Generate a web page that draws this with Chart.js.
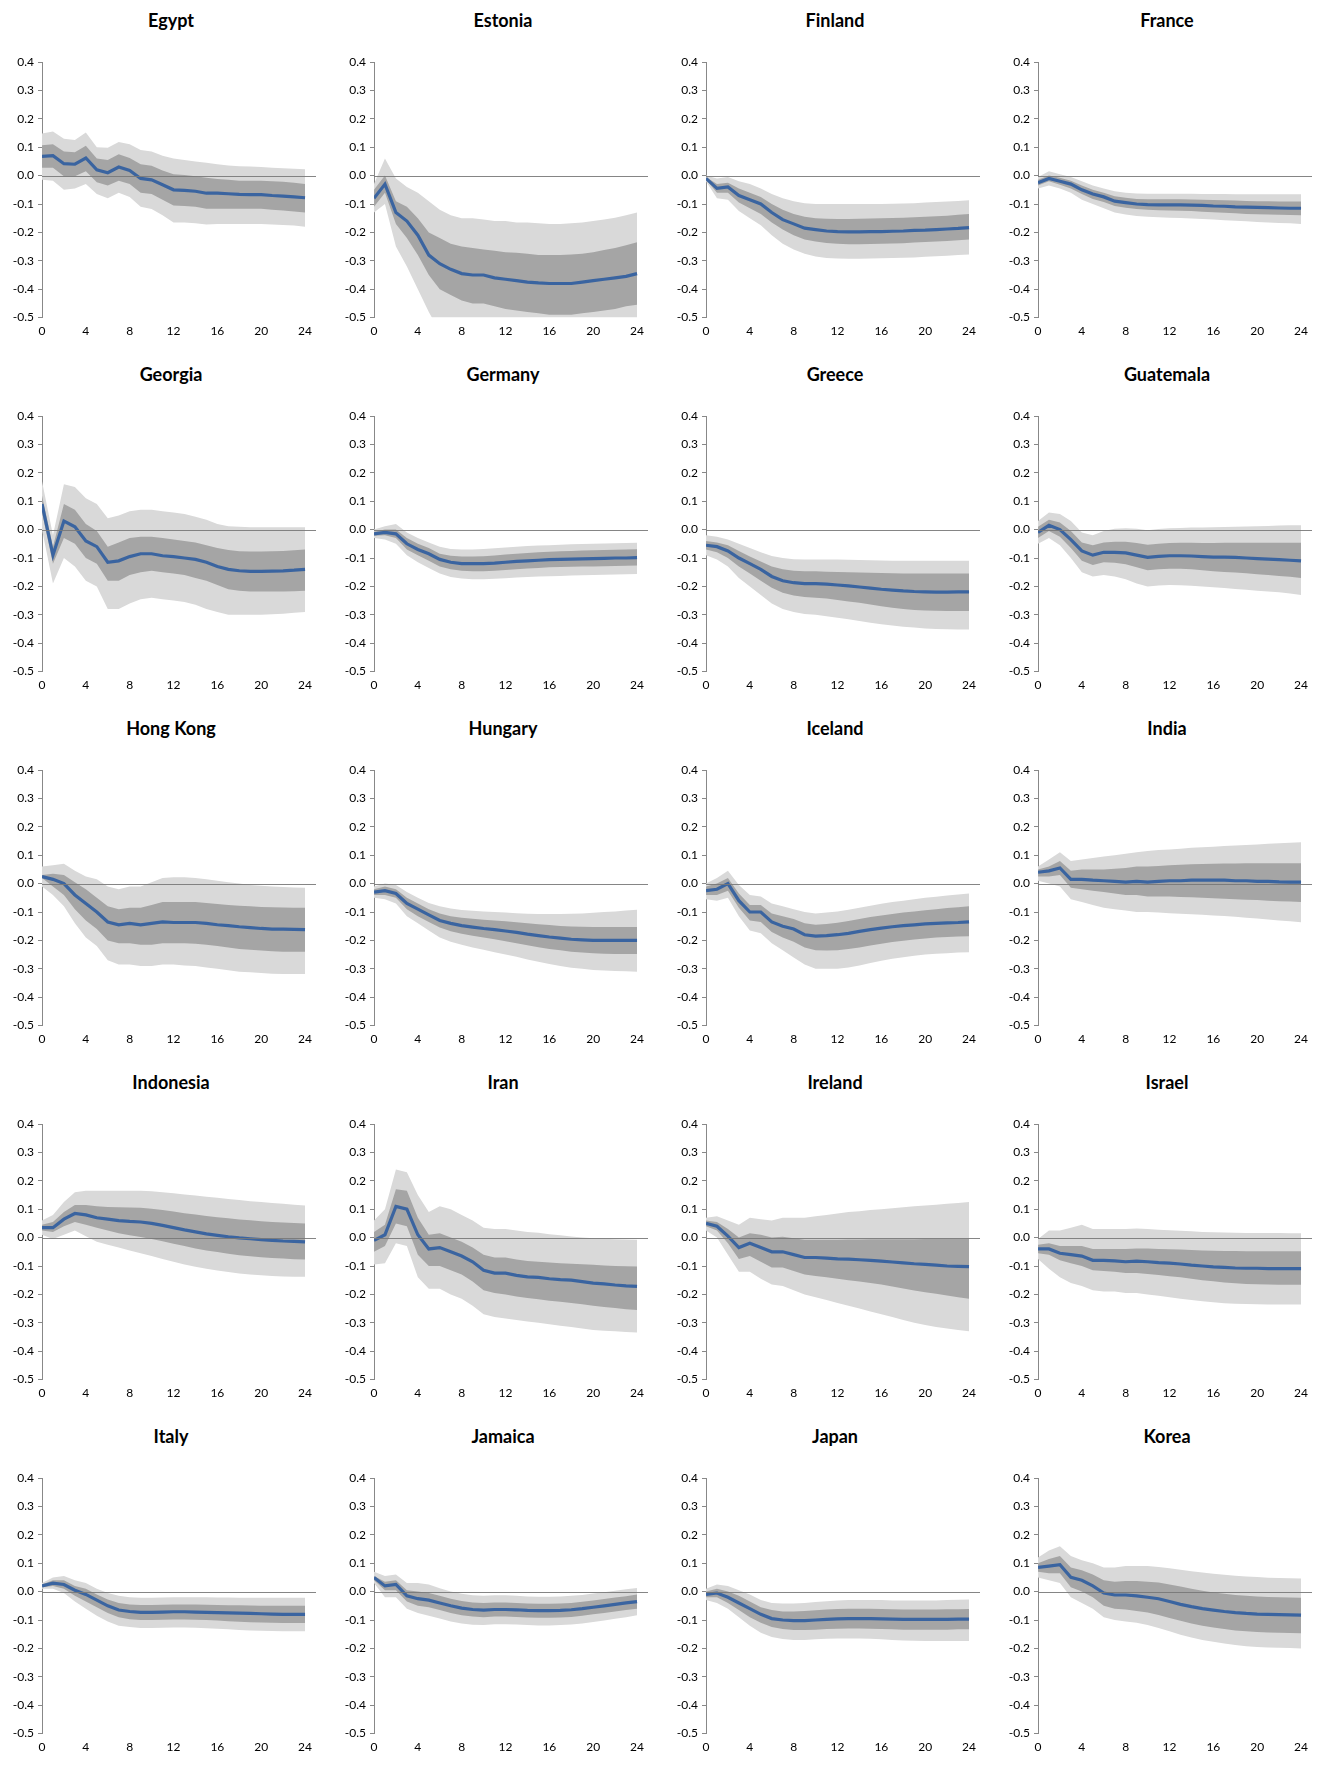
<!DOCTYPE html>
<html><head><meta charset="utf-8">
<script src="https://cdn.jsdelivr.net/npm/chart.js@4.4.0/dist/chart.umd.min.js"></script>
<style>
body{margin:0;background:#fff;}
#grid{display:grid;grid-template-columns:repeat(4,332px);grid-auto-rows:354px;width:1328px;}
.p{position:relative;width:332px;height:354px;}
.t{position:absolute;top:9px;left:0;width:100%;text-align:center;font:bold 18px Lato,"Liberation Sans",sans-serif;color:#000;padding-left:10px;box-sizing:border-box;}
.p canvas{position:absolute;top:44px;left:0;}
</style></head><body><div id="grid"></div>
<script>
const countries=["Egypt","Estonia","Finland","France","Georgia","Germany","Greece","Guatemala","Hong Kong","Hungary","Iceland","India","Indonesia","Iran","Ireland","Israel","Italy","Jamaica","Japan","Korea"];
const horizons=[0,1,2,3,4,5,6,7,8,9,10,11,12,13,14,15,16,17,18,19,20,21,22,23,24];
const xTicks=[0,4,8,12,16,20,24];
const yTicks=[-0.5,-0.4,-0.3,-0.2,-0.1,0,0.1,0.2,0.3,0.4];
// per country: median, inner upper, inner lower, outer upper, outer lower
const median={}, innerHi={}, innerLo={}, outerHi={}, outerLo={};
median["Egypt"]=[0.068,0.07,0.042,0.04,0.062,0.02,0.01,0.03,0.018,-0.01,-0.015,-0.032,-0.05,-0.052,-0.055,-0.062,-0.062,-0.064,-0.066,-0.067,-0.067,-0.07,-0.072,-0.075,-0.078];
innerHi["Egypt"]=[0.107,0.11,0.085,0.082,0.105,0.06,0.055,0.075,0.062,0.04,0.035,0.018,0.005,0.002,-0.002,-0.008,-0.012,-0.015,-0.018,-0.018,-0.018,-0.02,-0.022,-0.025,-0.03];
innerLo["Egypt"]=[0.028,0.028,-0.002,-0.002,0.015,-0.023,-0.035,-0.018,-0.03,-0.06,-0.065,-0.085,-0.105,-0.107,-0.11,-0.117,-0.117,-0.117,-0.117,-0.117,-0.117,-0.12,-0.123,-0.126,-0.13];
outerHi["Egypt"]=[0.148,0.155,0.13,0.125,0.152,0.1,0.098,0.118,0.11,0.09,0.085,0.07,0.06,0.055,0.05,0.045,0.04,0.036,0.033,0.032,0.03,0.028,0.026,0.024,0.022];
outerLo["Egypt"]=[-0.015,-0.018,-0.05,-0.045,-0.03,-0.065,-0.08,-0.06,-0.075,-0.11,-0.118,-0.14,-0.165,-0.165,-0.168,-0.172,-0.17,-0.17,-0.17,-0.17,-0.17,-0.172,-0.174,-0.176,-0.18];
median["Estonia"]=[-0.08,-0.03,-0.13,-0.16,-0.21,-0.28,-0.31,-0.33,-0.345,-0.35,-0.35,-0.36,-0.365,-0.37,-0.375,-0.378,-0.38,-0.38,-0.38,-0.375,-0.37,-0.365,-0.36,-0.355,-0.345];
innerHi["Estonia"]=[-0.05,0.0,-0.09,-0.11,-0.15,-0.2,-0.22,-0.24,-0.25,-0.255,-0.26,-0.265,-0.27,-0.272,-0.275,-0.28,-0.28,-0.28,-0.278,-0.275,-0.27,-0.262,-0.255,-0.245,-0.235];
innerLo["Estonia"]=[-0.11,-0.06,-0.17,-0.22,-0.28,-0.35,-0.4,-0.42,-0.44,-0.45,-0.45,-0.46,-0.47,-0.475,-0.48,-0.485,-0.49,-0.49,-0.49,-0.485,-0.48,-0.475,-0.47,-0.46,-0.455];
outerHi["Estonia"]=[-0.03,0.06,-0.01,-0.04,-0.06,-0.09,-0.12,-0.14,-0.15,-0.15,-0.155,-0.16,-0.16,-0.165,-0.165,-0.168,-0.17,-0.17,-0.168,-0.165,-0.16,-0.155,-0.148,-0.14,-0.13];
outerLo["Estonia"]=[-0.13,-0.1,-0.25,-0.32,-0.4,-0.48,-0.55,-0.58,-0.6,-0.6,-0.6,-0.6,-0.6,-0.6,-0.6,-0.6,-0.6,-0.6,-0.6,-0.6,-0.6,-0.6,-0.6,-0.6,-0.6];
median["Finland"]=[-0.01,-0.045,-0.04,-0.07,-0.085,-0.1,-0.13,-0.155,-0.17,-0.185,-0.19,-0.195,-0.197,-0.198,-0.198,-0.197,-0.197,-0.196,-0.195,-0.193,-0.192,-0.19,-0.188,-0.186,-0.183];
innerHi["Finland"]=[-0.005,-0.03,-0.025,-0.045,-0.06,-0.075,-0.1,-0.12,-0.135,-0.145,-0.15,-0.152,-0.153,-0.153,-0.152,-0.151,-0.15,-0.149,-0.148,-0.147,-0.145,-0.143,-0.141,-0.138,-0.135];
innerLo["Finland"]=[-0.015,-0.06,-0.06,-0.095,-0.115,-0.135,-0.165,-0.19,-0.21,-0.225,-0.232,-0.237,-0.24,-0.242,-0.242,-0.241,-0.24,-0.239,-0.238,-0.236,-0.234,-0.232,-0.23,-0.228,-0.225];
outerHi["Finland"]=[0.0,-0.01,-0.005,-0.02,-0.03,-0.045,-0.065,-0.08,-0.09,-0.097,-0.1,-0.1,-0.1,-0.1,-0.1,-0.1,-0.1,-0.099,-0.098,-0.097,-0.095,-0.093,-0.091,-0.089,-0.087];
outerLo["Finland"]=[-0.02,-0.08,-0.085,-0.125,-0.15,-0.175,-0.21,-0.24,-0.26,-0.275,-0.285,-0.29,-0.292,-0.293,-0.293,-0.292,-0.291,-0.29,-0.289,-0.288,-0.286,-0.284,-0.282,-0.28,-0.278];
median["France"]=[-0.025,-0.01,-0.02,-0.03,-0.05,-0.065,-0.075,-0.09,-0.095,-0.1,-0.102,-0.103,-0.103,-0.103,-0.104,-0.105,-0.107,-0.108,-0.11,-0.111,-0.112,-0.113,-0.114,-0.115,-0.115];
innerHi["France"]=[-0.015,0.0,-0.008,-0.018,-0.035,-0.05,-0.06,-0.073,-0.078,-0.082,-0.083,-0.083,-0.083,-0.083,-0.084,-0.085,-0.086,-0.087,-0.088,-0.089,-0.09,-0.09,-0.091,-0.091,-0.091];
innerLo["France"]=[-0.035,-0.02,-0.032,-0.045,-0.065,-0.082,-0.093,-0.107,-0.113,-0.118,-0.12,-0.122,-0.123,-0.124,-0.125,-0.127,-0.129,-0.131,-0.133,-0.135,-0.136,-0.137,-0.138,-0.139,-0.14];
outerHi["France"]=[-0.005,0.015,0.005,-0.005,-0.02,-0.035,-0.045,-0.055,-0.06,-0.063,-0.064,-0.064,-0.064,-0.064,-0.064,-0.065,-0.065,-0.065,-0.066,-0.066,-0.066,-0.066,-0.066,-0.066,-0.066];
outerLo["France"]=[-0.045,-0.035,-0.045,-0.06,-0.085,-0.1,-0.115,-0.13,-0.137,-0.142,-0.145,-0.147,-0.148,-0.149,-0.151,-0.153,-0.155,-0.157,-0.159,-0.161,-0.163,-0.165,-0.167,-0.168,-0.17];
median["Georgia"]=[0.09,-0.09,0.03,0.01,-0.04,-0.06,-0.115,-0.11,-0.095,-0.085,-0.085,-0.092,-0.095,-0.1,-0.105,-0.115,-0.13,-0.14,-0.145,-0.147,-0.147,-0.146,-0.145,-0.143,-0.14];
innerHi["Georgia"]=[0.12,-0.06,0.09,0.07,0.02,-0.005,-0.06,-0.045,-0.03,-0.025,-0.025,-0.03,-0.035,-0.04,-0.045,-0.055,-0.065,-0.072,-0.076,-0.077,-0.077,-0.076,-0.075,-0.073,-0.07];
innerLo["Georgia"]=[0.06,-0.12,-0.03,-0.05,-0.1,-0.12,-0.18,-0.18,-0.16,-0.15,-0.145,-0.15,-0.155,-0.16,-0.17,-0.18,-0.195,-0.21,-0.215,-0.218,-0.218,-0.218,-0.218,-0.217,-0.215];
outerHi["Georgia"]=[0.17,-0.02,0.16,0.15,0.11,0.09,0.04,0.05,0.065,0.07,0.07,0.065,0.06,0.055,0.045,0.035,0.02,0.012,0.01,0.008,0.008,0.008,0.008,0.008,0.008];
outerLo["Georgia"]=[0.0,-0.19,-0.1,-0.13,-0.18,-0.2,-0.28,-0.28,-0.26,-0.245,-0.24,-0.245,-0.25,-0.255,-0.265,-0.28,-0.29,-0.3,-0.3,-0.3,-0.3,-0.298,-0.296,-0.293,-0.29];
median["Germany"]=[-0.015,-0.01,-0.015,-0.05,-0.07,-0.085,-0.105,-0.115,-0.12,-0.12,-0.12,-0.118,-0.115,-0.112,-0.11,-0.108,-0.106,-0.105,-0.104,-0.103,-0.102,-0.101,-0.1,-0.1,-0.099];
innerHi["Germany"]=[-0.008,0.0,0.0,-0.03,-0.05,-0.065,-0.085,-0.092,-0.095,-0.095,-0.094,-0.091,-0.088,-0.085,-0.082,-0.08,-0.078,-0.076,-0.075,-0.074,-0.073,-0.072,-0.071,-0.07,-0.069];
innerLo["Germany"]=[-0.022,-0.02,-0.03,-0.07,-0.09,-0.11,-0.13,-0.14,-0.145,-0.147,-0.147,-0.145,-0.142,-0.14,-0.137,-0.135,-0.133,-0.132,-0.131,-0.13,-0.13,-0.129,-0.128,-0.127,-0.126];
outerHi["Germany"]=[0.0,0.012,0.02,-0.01,-0.03,-0.045,-0.06,-0.068,-0.07,-0.07,-0.068,-0.066,-0.063,-0.06,-0.058,-0.056,-0.055,-0.053,-0.052,-0.051,-0.05,-0.049,-0.048,-0.047,-0.046];
outerLo["Germany"]=[-0.03,-0.035,-0.05,-0.09,-0.115,-0.135,-0.155,-0.167,-0.172,-0.175,-0.175,-0.173,-0.171,-0.169,-0.167,-0.165,-0.164,-0.163,-0.162,-0.161,-0.16,-0.159,-0.158,-0.157,-0.156];
median["Greece"]=[-0.055,-0.06,-0.075,-0.1,-0.12,-0.14,-0.165,-0.18,-0.187,-0.19,-0.19,-0.192,-0.195,-0.198,-0.202,-0.206,-0.21,-0.213,-0.216,-0.218,-0.219,-0.22,-0.22,-0.219,-0.219];
innerHi["Greece"]=[-0.04,-0.045,-0.055,-0.075,-0.095,-0.112,-0.13,-0.14,-0.145,-0.147,-0.147,-0.148,-0.149,-0.15,-0.151,-0.152,-0.153,-0.154,-0.155,-0.155,-0.155,-0.155,-0.155,-0.155,-0.155];
innerLo["Greece"]=[-0.07,-0.08,-0.1,-0.13,-0.155,-0.18,-0.205,-0.222,-0.232,-0.237,-0.24,-0.243,-0.248,-0.253,-0.258,-0.264,-0.27,-0.275,-0.28,-0.283,-0.285,-0.286,-0.287,-0.287,-0.287];
outerHi["Greece"]=[-0.02,-0.025,-0.035,-0.05,-0.065,-0.08,-0.093,-0.1,-0.104,-0.105,-0.105,-0.105,-0.105,-0.106,-0.107,-0.108,-0.109,-0.11,-0.11,-0.11,-0.11,-0.11,-0.11,-0.11,-0.11];
outerLo["Greece"]=[-0.09,-0.105,-0.13,-0.17,-0.2,-0.23,-0.26,-0.28,-0.29,-0.297,-0.3,-0.305,-0.31,-0.316,-0.322,-0.328,-0.333,-0.338,-0.342,-0.345,-0.348,-0.35,-0.351,-0.352,-0.352];
median["Guatemala"]=[-0.01,0.015,0.0,-0.035,-0.075,-0.09,-0.08,-0.08,-0.082,-0.09,-0.098,-0.094,-0.092,-0.092,-0.093,-0.095,-0.097,-0.097,-0.098,-0.1,-0.102,-0.104,-0.106,-0.108,-0.11];
innerHi["Guatemala"]=[0.01,0.035,0.025,-0.005,-0.045,-0.055,-0.045,-0.043,-0.043,-0.047,-0.053,-0.05,-0.047,-0.046,-0.046,-0.047,-0.047,-0.046,-0.046,-0.046,-0.046,-0.046,-0.046,-0.046,-0.046];
innerLo["Guatemala"]=[-0.03,-0.005,-0.025,-0.065,-0.11,-0.125,-0.115,-0.117,-0.122,-0.133,-0.143,-0.14,-0.138,-0.138,-0.14,-0.143,-0.147,-0.149,-0.151,-0.154,-0.157,-0.16,-0.163,-0.166,-0.17];
outerHi["Guatemala"]=[0.03,0.06,0.055,0.03,-0.01,-0.02,-0.005,0.003,0.005,0.003,-0.002,0.002,0.005,0.006,0.007,0.007,0.008,0.009,0.01,0.011,0.012,0.013,0.014,0.015,0.015];
outerLo["Guatemala"]=[-0.05,-0.03,-0.055,-0.1,-0.15,-0.165,-0.16,-0.165,-0.175,-0.19,-0.2,-0.197,-0.195,-0.196,-0.198,-0.2,-0.203,-0.206,-0.209,-0.212,-0.215,-0.218,-0.221,-0.225,-0.23];
median["Hong Kong"]=[0.025,0.015,0.0,-0.04,-0.07,-0.1,-0.135,-0.145,-0.14,-0.145,-0.14,-0.135,-0.137,-0.137,-0.137,-0.14,-0.145,-0.148,-0.152,-0.155,-0.158,-0.16,-0.16,-0.161,-0.162];
innerHi["Hong Kong"]=[0.03,0.035,0.03,0.005,-0.02,-0.05,-0.08,-0.09,-0.085,-0.085,-0.075,-0.065,-0.065,-0.065,-0.065,-0.068,-0.072,-0.075,-0.078,-0.08,-0.082,-0.083,-0.084,-0.085,-0.085];
innerLo["Hong Kong"]=[0.02,-0.01,-0.04,-0.09,-0.13,-0.16,-0.2,-0.21,-0.21,-0.215,-0.215,-0.21,-0.21,-0.21,-0.212,-0.215,-0.22,-0.225,-0.23,-0.233,-0.236,-0.238,-0.24,-0.24,-0.24];
outerHi["Hong Kong"]=[0.06,0.065,0.07,0.045,0.025,0.015,-0.01,-0.02,-0.01,-0.01,0.005,0.02,0.022,0.022,0.02,0.015,0.01,0.005,0.0,-0.005,-0.008,-0.01,-0.012,-0.014,-0.015];
outerLo["Hong Kong"]=[-0.01,-0.04,-0.08,-0.14,-0.19,-0.22,-0.27,-0.285,-0.285,-0.29,-0.29,-0.285,-0.285,-0.288,-0.29,-0.295,-0.3,-0.305,-0.31,-0.312,-0.315,-0.317,-0.318,-0.318,-0.318];
median["Hungary"]=[-0.03,-0.025,-0.035,-0.07,-0.09,-0.11,-0.13,-0.14,-0.148,-0.153,-0.158,-0.162,-0.167,-0.172,-0.178,-0.183,-0.188,-0.192,-0.196,-0.198,-0.2,-0.2,-0.2,-0.2,-0.2];
innerHi["Hungary"]=[-0.02,-0.01,-0.02,-0.05,-0.07,-0.09,-0.105,-0.115,-0.12,-0.124,-0.127,-0.13,-0.133,-0.136,-0.14,-0.143,-0.146,-0.149,-0.151,-0.152,-0.153,-0.153,-0.153,-0.153,-0.153];
innerLo["Hungary"]=[-0.04,-0.04,-0.05,-0.09,-0.115,-0.135,-0.155,-0.168,-0.177,-0.184,-0.19,-0.196,-0.203,-0.21,-0.217,-0.224,-0.23,-0.235,-0.24,-0.243,-0.245,-0.247,-0.248,-0.248,-0.248];
outerHi["Hungary"]=[-0.01,0.0,-0.005,-0.03,-0.05,-0.068,-0.08,-0.088,-0.093,-0.096,-0.098,-0.1,-0.102,-0.104,-0.106,-0.107,-0.107,-0.107,-0.106,-0.105,-0.103,-0.1,-0.098,-0.095,-0.092];
outerLo["Hungary"]=[-0.05,-0.055,-0.07,-0.115,-0.14,-0.165,-0.19,-0.205,-0.215,-0.225,-0.233,-0.242,-0.25,-0.258,-0.267,-0.275,-0.283,-0.29,-0.296,-0.3,-0.304,-0.306,-0.308,-0.309,-0.31];
median["Iceland"]=[-0.025,-0.02,0.0,-0.06,-0.1,-0.1,-0.135,-0.15,-0.16,-0.18,-0.185,-0.183,-0.18,-0.175,-0.168,-0.162,-0.157,-0.152,-0.148,-0.145,-0.142,-0.14,-0.138,-0.137,-0.135];
innerHi["Iceland"]=[-0.01,0.0,0.02,-0.035,-0.075,-0.075,-0.105,-0.115,-0.125,-0.14,-0.145,-0.142,-0.138,-0.132,-0.125,-0.118,-0.112,-0.107,-0.102,-0.098,-0.094,-0.09,-0.086,-0.083,-0.08];
innerLo["Iceland"]=[-0.04,-0.04,-0.025,-0.085,-0.13,-0.135,-0.17,-0.19,-0.205,-0.225,-0.235,-0.236,-0.235,-0.23,-0.225,-0.218,-0.212,-0.206,-0.201,-0.197,-0.193,-0.19,-0.188,-0.186,-0.185];
outerHi["Iceland"]=[0.0,0.02,0.045,-0.005,-0.04,-0.045,-0.07,-0.08,-0.09,-0.1,-0.105,-0.102,-0.098,-0.092,-0.085,-0.078,-0.071,-0.065,-0.06,-0.055,-0.05,-0.046,-0.042,-0.038,-0.035];
outerLo["Iceland"]=[-0.055,-0.06,-0.05,-0.115,-0.165,-0.175,-0.21,-0.235,-0.26,-0.285,-0.3,-0.3,-0.3,-0.295,-0.288,-0.28,-0.272,-0.265,-0.259,-0.254,-0.25,-0.247,-0.245,-0.243,-0.242];
median["India"]=[0.04,0.045,0.055,0.015,0.015,0.012,0.01,0.008,0.005,0.008,0.005,0.008,0.01,0.01,0.012,0.012,0.012,0.012,0.01,0.01,0.008,0.008,0.006,0.005,0.005];
innerHi["India"]=[0.05,0.06,0.08,0.045,0.05,0.05,0.05,0.052,0.055,0.06,0.06,0.062,0.065,0.066,0.068,0.069,0.07,0.071,0.071,0.072,0.072,0.072,0.072,0.072,0.072];
innerLo["India"]=[0.025,0.025,0.03,-0.015,-0.02,-0.025,-0.03,-0.035,-0.04,-0.04,-0.045,-0.045,-0.045,-0.047,-0.048,-0.05,-0.052,-0.053,-0.055,-0.057,-0.058,-0.06,-0.062,-0.063,-0.065];
outerHi["India"]=[0.06,0.085,0.11,0.08,0.085,0.09,0.095,0.1,0.105,0.11,0.115,0.118,0.12,0.123,0.126,0.128,0.13,0.132,0.134,0.136,0.138,0.14,0.142,0.144,0.146];
outerLo["India"]=[0.01,0.0,-0.01,-0.055,-0.065,-0.075,-0.085,-0.09,-0.095,-0.1,-0.1,-0.102,-0.104,-0.106,-0.108,-0.11,-0.112,-0.114,-0.117,-0.12,-0.123,-0.126,-0.13,-0.133,-0.136];
median["Indonesia"]=[0.035,0.035,0.065,0.085,0.08,0.07,0.065,0.06,0.057,0.055,0.05,0.043,0.035,0.027,0.02,0.013,0.008,0.003,-0.001,-0.004,-0.007,-0.01,-0.012,-0.013,-0.015];
innerHi["Indonesia"]=[0.045,0.055,0.09,0.115,0.115,0.11,0.108,0.107,0.106,0.105,0.102,0.097,0.092,0.086,0.081,0.076,0.072,0.068,0.064,0.061,0.058,0.055,0.053,0.051,0.05];
innerLo["Indonesia"]=[0.025,0.02,0.04,0.055,0.045,0.035,0.025,0.015,0.008,0.002,-0.005,-0.013,-0.022,-0.03,-0.038,-0.045,-0.051,-0.057,-0.062,-0.066,-0.069,-0.072,-0.074,-0.076,-0.077];
outerHi["Indonesia"]=[0.06,0.08,0.125,0.16,0.165,0.165,0.165,0.165,0.165,0.165,0.163,0.16,0.156,0.152,0.148,0.144,0.14,0.136,0.132,0.128,0.125,0.122,0.119,0.116,0.113];
outerLo["Indonesia"]=[0.01,-0.005,0.01,0.025,0.005,-0.015,-0.025,-0.035,-0.045,-0.055,-0.065,-0.075,-0.085,-0.095,-0.103,-0.11,-0.116,-0.121,-0.126,-0.13,-0.133,-0.135,-0.137,-0.138,-0.138];
median["Iran"]=[-0.01,0.01,0.11,0.1,0.01,-0.04,-0.035,-0.05,-0.065,-0.085,-0.115,-0.125,-0.125,-0.133,-0.138,-0.14,-0.145,-0.148,-0.15,-0.155,-0.16,-0.163,-0.167,-0.17,-0.172];
innerHi["Iran"]=[0.02,0.045,0.17,0.165,0.07,0.01,0.015,0.0,-0.015,-0.035,-0.06,-0.07,-0.07,-0.077,-0.082,-0.085,-0.088,-0.09,-0.092,-0.094,-0.096,-0.098,-0.1,-0.101,-0.102];
innerLo["Iran"]=[-0.05,-0.03,0.05,0.04,-0.06,-0.1,-0.1,-0.115,-0.13,-0.155,-0.185,-0.195,-0.2,-0.207,-0.213,-0.217,-0.222,-0.226,-0.23,-0.235,-0.24,-0.244,-0.248,-0.252,-0.255];
outerHi["Iran"]=[0.06,0.1,0.24,0.23,0.15,0.09,0.11,0.1,0.08,0.06,0.035,0.03,0.03,0.025,0.02,0.017,0.012,0.008,0.004,0.0,-0.002,-0.004,-0.006,-0.007,-0.008];
outerLo["Iran"]=[-0.095,-0.09,-0.02,-0.03,-0.14,-0.18,-0.18,-0.2,-0.215,-0.24,-0.27,-0.28,-0.285,-0.29,-0.295,-0.3,-0.305,-0.31,-0.315,-0.32,-0.325,-0.328,-0.33,-0.332,-0.334];
median["Ireland"]=[0.05,0.04,0.005,-0.035,-0.02,-0.035,-0.05,-0.05,-0.06,-0.07,-0.07,-0.072,-0.075,-0.076,-0.078,-0.08,-0.083,-0.086,-0.089,-0.092,-0.094,-0.097,-0.1,-0.101,-0.102];
innerHi["Ireland"]=[0.06,0.055,0.03,0.0,0.015,0.01,0.0,0.003,-0.002,-0.008,-0.008,-0.008,-0.008,-0.007,-0.007,-0.006,-0.006,-0.006,-0.006,-0.006,-0.005,-0.005,-0.005,-0.005,-0.005];
innerLo["Ireland"]=[0.04,0.025,-0.02,-0.075,-0.065,-0.085,-0.105,-0.105,-0.118,-0.13,-0.135,-0.14,-0.145,-0.15,-0.155,-0.16,-0.165,-0.172,-0.179,-0.186,-0.192,-0.198,-0.204,-0.21,-0.215];
outerHi["Ireland"]=[0.07,0.075,0.06,0.045,0.07,0.065,0.06,0.07,0.07,0.07,0.075,0.08,0.085,0.09,0.093,0.097,0.1,0.103,0.107,0.11,0.113,0.116,0.119,0.122,0.125];
outerLo["Ireland"]=[0.025,0.0,-0.06,-0.12,-0.12,-0.145,-0.165,-0.17,-0.185,-0.2,-0.21,-0.22,-0.23,-0.24,-0.25,-0.26,-0.27,-0.28,-0.29,-0.3,-0.308,-0.315,-0.32,-0.325,-0.33];
median["Israel"]=[-0.04,-0.04,-0.055,-0.06,-0.065,-0.08,-0.08,-0.082,-0.085,-0.083,-0.085,-0.088,-0.09,-0.093,-0.097,-0.1,-0.103,-0.105,-0.107,-0.108,-0.108,-0.109,-0.109,-0.109,-0.109];
innerHi["Israel"]=[-0.025,-0.02,-0.03,-0.03,-0.03,-0.04,-0.04,-0.04,-0.04,-0.038,-0.038,-0.04,-0.041,-0.042,-0.044,-0.045,-0.046,-0.047,-0.047,-0.048,-0.048,-0.048,-0.048,-0.048,-0.048];
innerLo["Israel"]=[-0.055,-0.06,-0.08,-0.09,-0.1,-0.115,-0.118,-0.12,-0.125,-0.125,-0.128,-0.132,-0.136,-0.14,-0.145,-0.15,-0.154,-0.158,-0.161,-0.163,-0.164,-0.165,-0.166,-0.166,-0.166];
outerHi["Israel"]=[-0.005,0.025,0.025,0.035,0.045,0.03,0.03,0.03,0.03,0.032,0.03,0.028,0.026,0.024,0.022,0.02,0.019,0.018,0.017,0.016,0.016,0.016,0.016,0.015,0.015];
outerLo["Israel"]=[-0.075,-0.11,-0.14,-0.16,-0.17,-0.185,-0.19,-0.19,-0.195,-0.195,-0.2,-0.205,-0.21,-0.215,-0.22,-0.224,-0.228,-0.231,-0.233,-0.234,-0.235,-0.236,-0.236,-0.236,-0.236];
median["Italy"]=[0.02,0.03,0.025,0.005,-0.01,-0.03,-0.05,-0.065,-0.07,-0.073,-0.073,-0.072,-0.071,-0.071,-0.072,-0.073,-0.074,-0.075,-0.076,-0.077,-0.078,-0.079,-0.08,-0.08,-0.08];
innerHi["Italy"]=[0.025,0.04,0.04,0.02,0.01,-0.01,-0.028,-0.04,-0.045,-0.047,-0.047,-0.046,-0.045,-0.045,-0.045,-0.046,-0.047,-0.048,-0.048,-0.049,-0.05,-0.05,-0.05,-0.05,-0.05];
innerLo["Italy"]=[0.015,0.02,0.01,-0.015,-0.035,-0.055,-0.075,-0.09,-0.097,-0.1,-0.1,-0.099,-0.098,-0.098,-0.099,-0.1,-0.102,-0.104,-0.106,-0.108,-0.109,-0.11,-0.111,-0.111,-0.111];
outerHi["Italy"]=[0.03,0.05,0.055,0.04,0.03,0.01,-0.005,-0.015,-0.02,-0.022,-0.022,-0.021,-0.02,-0.02,-0.02,-0.02,-0.021,-0.021,-0.022,-0.022,-0.022,-0.022,-0.022,-0.022,-0.022];
outerLo["Italy"]=[0.01,0.01,-0.005,-0.035,-0.06,-0.085,-0.105,-0.12,-0.125,-0.128,-0.128,-0.127,-0.126,-0.126,-0.127,-0.129,-0.131,-0.133,-0.135,-0.137,-0.138,-0.139,-0.14,-0.14,-0.14];
median["Jamaica"]=[0.05,0.02,0.025,-0.015,-0.025,-0.03,-0.04,-0.05,-0.058,-0.063,-0.065,-0.063,-0.063,-0.064,-0.066,-0.067,-0.067,-0.066,-0.064,-0.06,-0.055,-0.05,-0.045,-0.04,-0.035];
innerHi["Jamaica"]=[0.055,0.035,0.04,0.005,0.0,-0.005,-0.015,-0.025,-0.033,-0.038,-0.04,-0.038,-0.038,-0.04,-0.042,-0.043,-0.043,-0.042,-0.04,-0.036,-0.031,-0.026,-0.021,-0.016,-0.01];
innerLo["Jamaica"]=[0.04,0.005,0.005,-0.035,-0.05,-0.055,-0.065,-0.075,-0.083,-0.088,-0.09,-0.088,-0.088,-0.089,-0.091,-0.092,-0.092,-0.091,-0.089,-0.085,-0.08,-0.075,-0.07,-0.065,-0.06];
outerHi["Jamaica"]=[0.07,0.055,0.06,0.03,0.03,0.025,0.012,0.0,-0.008,-0.013,-0.015,-0.013,-0.013,-0.015,-0.017,-0.018,-0.018,-0.017,-0.015,-0.012,-0.007,-0.002,0.003,0.008,0.013];
outerLo["Jamaica"]=[0.03,-0.02,-0.02,-0.06,-0.075,-0.085,-0.095,-0.105,-0.112,-0.117,-0.118,-0.115,-0.115,-0.116,-0.118,-0.119,-0.119,-0.118,-0.116,-0.112,-0.107,-0.102,-0.096,-0.09,-0.083];
median["Japan"]=[-0.01,-0.005,-0.02,-0.04,-0.06,-0.08,-0.095,-0.1,-0.102,-0.102,-0.1,-0.098,-0.096,-0.095,-0.095,-0.095,-0.096,-0.097,-0.098,-0.098,-0.098,-0.098,-0.098,-0.097,-0.097];
innerHi["Japan"]=[0.0,0.01,0.0,-0.015,-0.035,-0.055,-0.065,-0.07,-0.07,-0.068,-0.066,-0.063,-0.061,-0.06,-0.06,-0.06,-0.061,-0.062,-0.063,-0.063,-0.063,-0.063,-0.062,-0.062,-0.061];
innerLo["Japan"]=[-0.02,-0.02,-0.04,-0.065,-0.09,-0.11,-0.125,-0.132,-0.135,-0.135,-0.134,-0.132,-0.131,-0.13,-0.13,-0.131,-0.132,-0.133,-0.134,-0.134,-0.134,-0.134,-0.134,-0.133,-0.133];
outerHi["Japan"]=[0.01,0.025,0.02,0.005,-0.01,-0.03,-0.04,-0.042,-0.042,-0.04,-0.037,-0.034,-0.031,-0.03,-0.03,-0.03,-0.03,-0.031,-0.031,-0.031,-0.031,-0.031,-0.03,-0.029,-0.028];
outerLo["Japan"]=[-0.03,-0.04,-0.06,-0.09,-0.12,-0.145,-0.16,-0.167,-0.17,-0.17,-0.168,-0.166,-0.165,-0.165,-0.165,-0.166,-0.168,-0.17,-0.172,-0.173,-0.174,-0.174,-0.174,-0.174,-0.174];
median["Korea"]=[0.085,0.09,0.095,0.05,0.04,0.02,-0.005,-0.012,-0.012,-0.015,-0.02,-0.025,-0.035,-0.045,-0.053,-0.06,-0.065,-0.07,-0.074,-0.077,-0.079,-0.08,-0.081,-0.082,-0.083];
innerHi["Korea"]=[0.1,0.115,0.125,0.085,0.075,0.06,0.04,0.035,0.037,0.037,0.035,0.032,0.025,0.018,0.01,0.003,-0.003,-0.008,-0.012,-0.015,-0.017,-0.019,-0.02,-0.021,-0.022];
innerLo["Korea"]=[0.07,0.065,0.065,0.015,0.0,-0.02,-0.05,-0.06,-0.063,-0.068,-0.074,-0.082,-0.093,-0.103,-0.112,-0.12,-0.126,-0.132,-0.137,-0.14,-0.142,-0.144,-0.145,-0.146,-0.147];
outerHi["Korea"]=[0.12,0.145,0.16,0.125,0.11,0.1,0.085,0.085,0.09,0.09,0.09,0.087,0.082,0.077,0.072,0.067,0.063,0.059,0.056,0.053,0.051,0.049,0.048,0.047,0.046];
outerLo["Korea"]=[0.05,0.04,0.03,-0.02,-0.04,-0.06,-0.09,-0.1,-0.105,-0.11,-0.118,-0.128,-0.14,-0.152,-0.162,-0.17,-0.177,-0.183,-0.188,-0.192,-0.195,-0.197,-0.198,-0.199,-0.2];

const FONT='Lato, "Liberation Sans", sans-serif';
const pts=a=>a.map((v,i)=>({x:horizons[i],y:v}));
const zeroLine={id:'zeroLine',afterDatasetsDraw(c){const ctx=c.ctx,y=c.scales.y.getPixelForValue(0);ctx.save();ctx.strokeStyle='rgba(120,120,120,0.9)';ctx.lineWidth=1;ctx.beginPath();ctx.moveTo(c.chartArea.left,Math.round(y)+0.5);ctx.lineTo(c.chartArea.right,Math.round(y)+0.5);ctx.stroke();ctx.restore();}};
const grid=document.getElementById('grid');
countries.forEach(name=>{
  const p=document.createElement('div');p.className='p';
  const t=document.createElement('div');t.className='t';t.textContent=name;p.appendChild(t);
  const cv=document.createElement('canvas');cv.width=332;cv.height=300;cv.style.width='332px';cv.style.height='300px';p.appendChild(cv);
  grid.appendChild(p);
  const base={pointRadius:0,borderWidth:0,tension:0};
  new Chart(cv,{type:'line',plugins:[zeroLine],
    data:{datasets:[
      {...base,data:pts(outerLo[name]),fill:false,order:3},
      {...base,data:pts(outerHi[name]),fill:'-1',backgroundColor:'#d9d9d9',order:3},
      {...base,data:pts(innerLo[name]),fill:false,order:2},
      {...base,data:pts(innerHi[name]),fill:'-1',backgroundColor:'#a5a5a5',order:2},
      {data:pts(median[name]),borderColor:'#3a64a0',borderWidth:3.2,pointRadius:0,fill:false,tension:0,order:1}
    ]},
    options:{responsive:false,animation:false,events:[],
      layout:{padding:{top:18,right:16,left:4,bottom:0}},
      plugins:{legend:{display:false},tooltip:{enabled:false}},
      scales:{
        x:{type:'linear',min:0,max:25,
          afterBuildTicks(s){s.ticks=xTicks.map(v=>({value:v}));},
          grid:{display:false,drawTicks:false},border:{display:false},
          ticks:{font:{family:FONT,size:12},color:'#000',padding:6,maxRotation:0,autoSkip:false}},
        y:{min:-0.5,max:0.4,
          afterBuildTicks(s){s.ticks=yTicks.map(v=>({value:v}));},
          afterFit(s){s.width=38;},
          grid:{display:true,drawOnChartArea:false,drawTicks:true,tickLength:4,color:'#888'},
          border:{display:true,color:'#888'},
          ticks:{font:{family:FONT,size:12},color:'#000',padding:4,callback:v=>v.toFixed(1)}}
      }}});
});
</script></body></html>
